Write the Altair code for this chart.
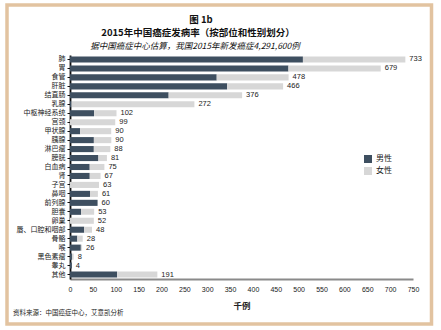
import altair as alt
import pandas as pd

categories = ["肺", "胃", "食管", "肝脏", "结直肠", "乳腺", "中枢神经系统", "宫颈", "甲状腺", "胰腺",
              "淋巴瘤", "膀胱", "白血病", "肾", "子宫", "鼻咽", "前列腺", "胆囊", "卵巢",
              "唇、口腔和咽部", "骨骼", "喉", "黑色素瘤", "睾丸", "其他"]
male = [509.3, 477.7, 320.8, 343.7, 215.7, 3.4, 52.7, 0, 22.2, 52.2,
        52.1, 62.1, 43.1, 43.2, 0, 43.7, 60.3, 24.3, 0,
        31.0, 16.0, 23.7, 4.3, 4.0, 103.0]
female = [224.0, 201.7, 157.2, 122.3, 160.6, 268.6, 49.0, 98.9, 67.9, 38.1,
          36.1, 18.6, 32.1, 23.6, 63.4, 17.3, 0, 28.5, 52.1,
          17.1, 11.8, 2.7, 3.7, 0, 88.0]
totals = [733, 679, 478, 466, 376, 272, 102, 99, 90, 90, 88, 81, 75, 67, 63, 61, 60, 53, 52,
          48, 28, 26, 8, 4, 191]
series = ["男性", "女性"]
x_ticks = list(range(0, 751, 50))

FONT = "Noto Sans CJK SC"
NUMFONT = "Liberation Sans"
DARK = "#3E4F60"
GRAY = "#D7D7D7"
TAN = "#E2C3A0"

rows = []
for i, c in enumerate(categories):
    rows.append({"cat": c, "sex": series[0], "v": male[i], "o": 0})
    rows.append({"cat": c, "sex": series[1], "v": female[i], "o": 1})
df = pd.DataFrame(rows)
tdf = pd.DataFrame({"cat": categories, "total": [m + f for m, f in zip(male, female)],
                    "label": [str(t) for t in totals]})

x_scale = alt.Scale(domain=[0, 750], nice=False)
y_scale = alt.Scale(paddingInner=0.32, paddingOuter=0.16)
x_axis = alt.Axis(values=x_ticks, title="千例")
y_axis = alt.Axis(title=None)

bars = alt.Chart(df).mark_bar().encode(
    x=alt.X("v:Q", stack="zero", scale=x_scale, axis=x_axis),
    y=alt.Y("cat:N", sort=categories, scale=y_scale, axis=y_axis),
    color=alt.Color("sex:N", sort=series,
                    scale=alt.Scale(domain=series, range=[DARK, GRAY]),
                    legend=alt.Legend(title=None, orient="none", legendX=294, legendY=100,
                                      symbolType="square", symbolSize=64, symbolStrokeWidth=0,
                                      labelFont=FONT, labelFontSize=8, labelColor="#222222",
                                      rowPadding=4, labelOffset=4)),
    order=alt.Order("o:Q"),
)

labels = alt.Chart(tdf).mark_text(align="left", baseline="middle", dx=4, font=NUMFONT,
                                   fontSize=7.5, color="#222222").encode(
    x=alt.X("total:Q", scale=x_scale, axis=x_axis),
    y=alt.Y("cat:N", sort=categories, scale=y_scale, axis=y_axis),
    text="label:N")

deco = pd.DataFrame({"k": [0]})
frame = alt.Chart(deco).mark_rect(fill=None, stroke=TAN, strokeWidth=3.5).encode(
    x=alt.value(-63), x2=alt.value(361.5), y=alt.value(-50), y2=alt.value(269))

t1 = alt.Chart(deco).mark_text(font=FONT, fontSize=9.5, fontWeight="bold", color="#111111",
                               baseline="middle").encode(
    x=alt.value(131), y=alt.value(-35), text=alt.value("图 1b"))
t2 = alt.Chart(deco).mark_text(font=FONT, fontSize=9.5, fontWeight="bold", color="#111111",
                               baseline="middle").encode(
    x=alt.value(128), y=alt.value(-22), text=alt.value("2015年中国癌症发病率（按部位和性别划分）"))
t3 = alt.Chart(deco).mark_text(font=FONT, fontSize=8.5, fontStyle="italic", color="#111111",
                               baseline="middle").encode(
    x=alt.value(125), y=alt.value(-9), text=alt.value("据中国癌症中心估算，我国2015年新发癌症4,291,600例"))
src = alt.Chart(deco).mark_text(font=FONT, fontSize=6.5, color="#222222", align="left",
                                baseline="middle").encode(
    x=alt.value(-57), y=alt.value(258), text=alt.value("资料来源：中国癌症中心，艾意凯分析"))

chart = alt.layer(frame, bars, labels, t1, t2, t3, src).properties(
    width=343, height=224,
    autosize=alt.AutoSizeParams(type="none"),
    padding={"left": 70, "top": 55, "right": 28, "bottom": 51},
    background="white",
).configure_view(stroke=None).configure_axisX(
    labelFont=NUMFONT, labelFontSize=7, labelColor="#222222",
    domainColor="#8A8A8A", domainWidth=2, ticks=False, labelPadding=6,
    grid=False, titleFont=FONT, titleFontSize=8.5, titleFontWeight="bold",
    titleColor="#222222", titlePadding=9, labelFlush=False, labelOverlap=False,
).configure_axisY(
    labelFont=FONT, labelFontSize=7, labelColor="#222222",
    domainColor="#111111", domainWidth=1.8, tickColor="#111111",
    tickSize=3, tickWidth=1, labelPadding=2, labelLimit=200, labelOverlap=False,
    grid=False,
)

chart.save("out.html", embed_options={"renderer": "svg", "actions": False})
